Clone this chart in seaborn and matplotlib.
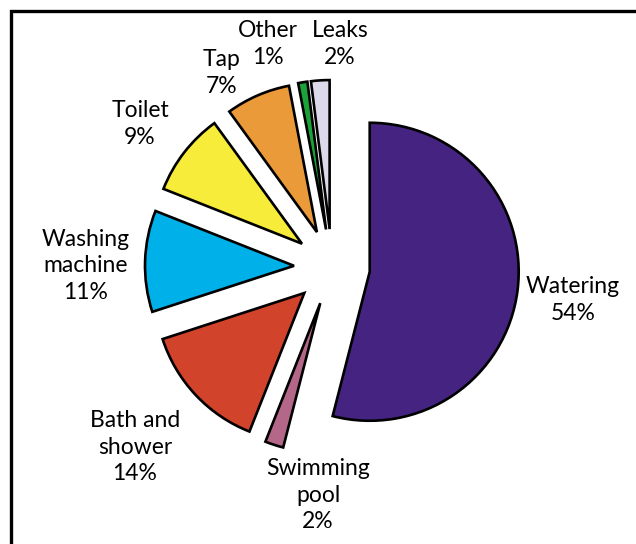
import matplotlib
matplotlib.use("Agg")
import matplotlib.pyplot as plt
import seaborn as sns
from matplotlib.patches import Rectangle

# data
categories = ["Watering", "Swimming\npool", "Bath and\nshower", "Washing\nmachine",
              "Toilet", "Tap", "Other", "Leaks"]
shares = [54, 2, 14, 11, 9, 7, 1, 2]
colors = ["#452380", "#B5678A", "#D2432B", "#00B0E8",
          "#F7EC3A", "#EA9A38", "#1BA33A", "#DCDAEA"]

# label anchor positions (pixels, top-left origin)
label_pos = [(573, 300), (318, 495), (135, 447), (86, 266),
             (140, 124), (222, 73), (268, 44), (340, 44)]

W, H = 636, 544
sns.set_theme(style="white")
plt.rcParams["font.family"] = ["Lato", "DejaVu Sans"]

fig = plt.figure(figsize=(W / 100, H / 100), dpi=100)
ax = fig.add_axes([0, 0, 1, 1])

# explode is in data units (= pixels here)
ax.pie(shares, colors=sns.color_palette(colors), startangle=90, counterclock=False,
       explode=[38] * len(shares), radius=149, center=(332, H - 267),
       wedgeprops=dict(edgecolor="black", linewidth=1.9))

for name, val, (x, y) in zip(categories, shares, label_pos):
    ax.text(x, H - y, f"{name}\n{val}%", ha="center", va="center",
            fontsize=16.5, linespacing=1.3, color="black")

ax.set_xlim(0, W)
ax.set_ylim(0, H)
ax.set_aspect("equal")
ax.axis("off")

# frame (extends past right and bottom edges)
fig.patches.append(Rectangle((11 / W, -0.2), 1.2, 1.2 - 11 / H, transform=fig.transFigure,
                             fill=False, edgecolor="black", linewidth=2.4, clip_on=False))

fig.savefig("out.png", dpi=100)
